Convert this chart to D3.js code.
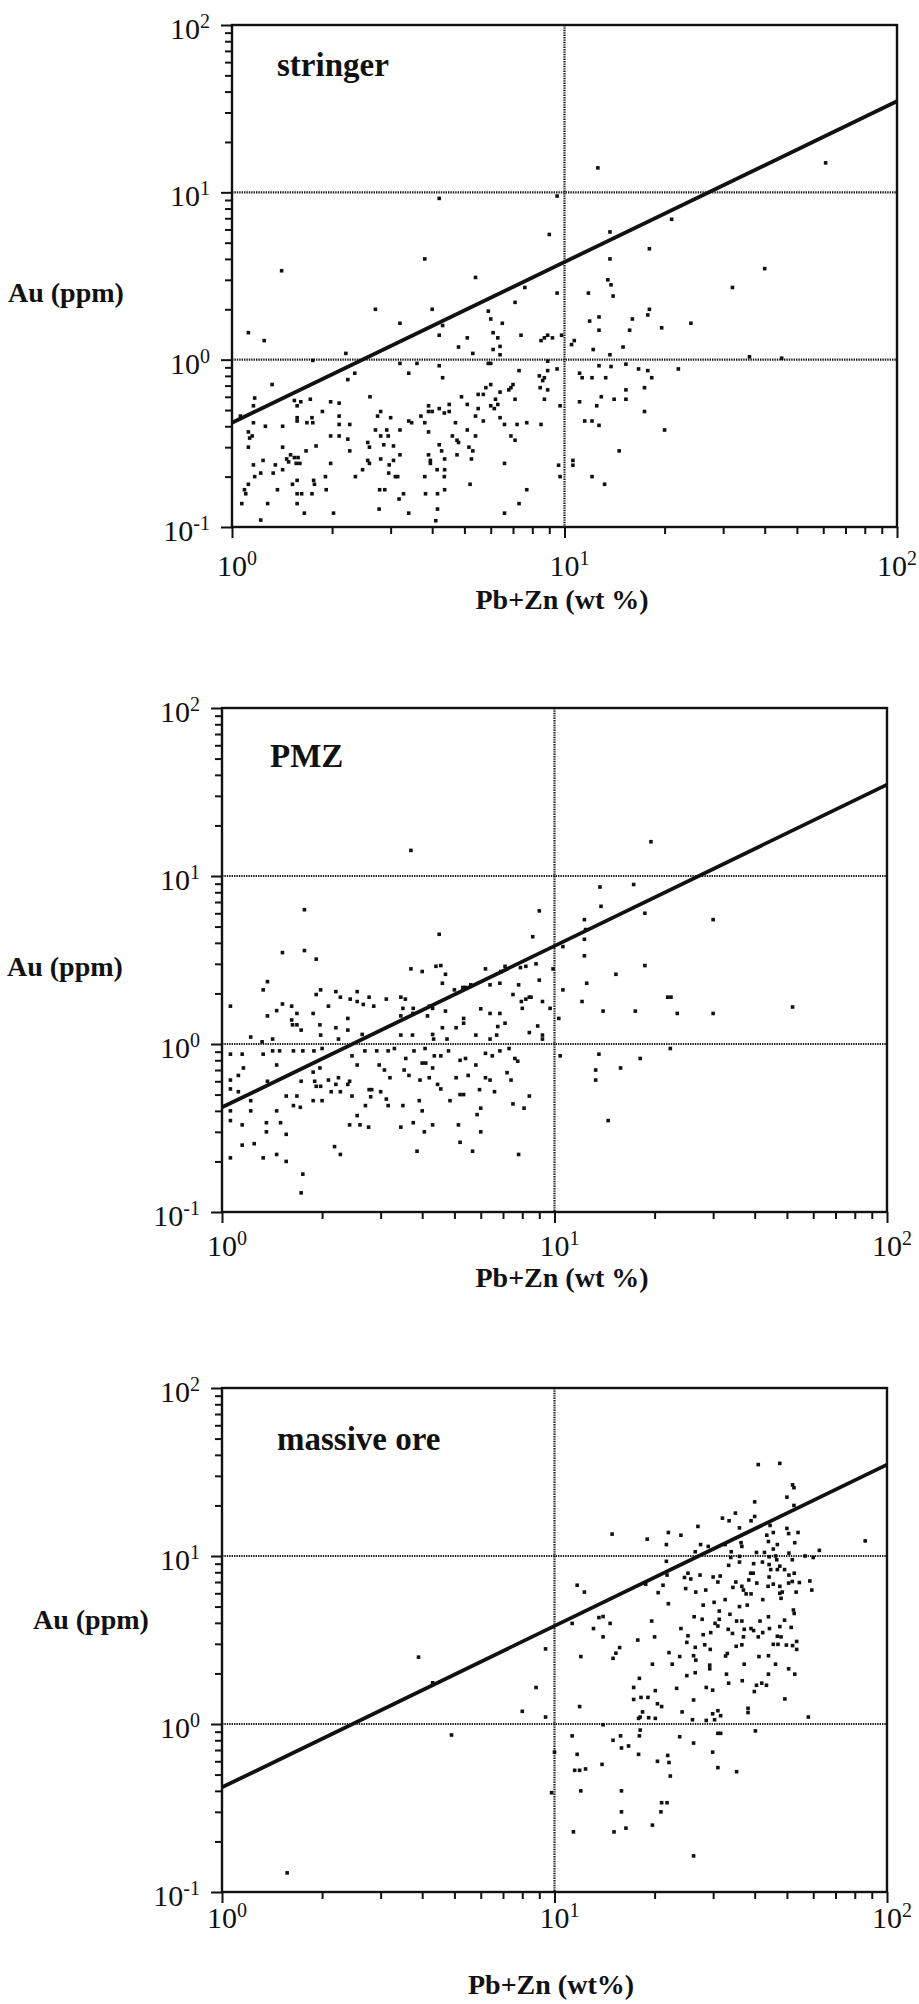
<!DOCTYPE html>
<html><head><meta charset="utf-8">
<script src="https://cdn.jsdelivr.net/npm/d3@7"></script>
<style>body{margin:0;background:#fff}svg{display:block}</style>
</head><body>
<svg id="chart" width="919" height="2004"></svg>
<script>
// ---------- data ----------
const panelNames = ["stringer", "PMZ", "massive ore"];
const xTitles = ["Pb+Zn (wt %)", "Pb+Zn (wt %)", "Pb+Zn (wt%)"];
const yTitle = "Au (ppm)";
const xTickValues = [1, 10, 100];
const xTickExponents = ["0", "1", "2"];
const yTickValues = [0.1, 1, 10, 100];
const yTickExponents = ["-1", "0", "1", "2"];
const gridXValues = [10];
const gridYValues = [1, 10];
const fitLine = [[1, 0.42], [100, 35]];

const stringerData = [[12.6,14],[4.2,9.2],[9.5,9.5],[21,6.9],[9.0,5.6],[13.7,5.8],[18,4.6],[3.8,4.0],[13.7,4.0],[1.41,3.4],[40,3.5],[5.4,3.1],[32,2.7],[7.6,2.7],[13.5,3.0],[13.8,2.8],[9.5,2.5],[11.8,2.5],[14,2.4],[7.1,2.2],[2.7,2.0],[4.0,2.0],[5.9,1.95],[18,2.0],[17.8,1.85],[12.7,1.8],[16,1.75],[6.0,1.75],[3.2,1.65],[6.5,1.65],[4.3,1.6],[11.9,1.7],[24,1.65],[1.12,1.45],[19.6,1.55],[12.7,1.5],[15.7,1.5],[6.1,1.45],[7.4,1.4],[4.2,1.4],[8.9,1.4],[8.7,1.35],[8.5,1.3],[9.2,1.35],[1.25,1.3],[5.1,1.35],[6.3,1.35],[10.7,1.3],[10.5,1.23],[9.8,1.4],[4.8,1.19],[6.4,1.2],[6.1,1.15],[12.2,1.15],[15,1.19],[5.3,1.09],[6.4,1.07],[2.2,1.09],[13.7,1.07],[1.75,0.99],[3.2,0.95],[3.6,0.95],[5.9,0.95],[6.0,0.95],[8.9,0.98],[36,1.04],[4.2,0.92],[12.7,0.92],[13.8,0.91],[15.3,0.94],[16.7,0.88],[17.8,0.86],[22,0.88],[9.5,0.88],[8.9,0.86],[3.4,0.83],[2.34,0.83],[7.3,0.86],[11.1,0.83],[11.3,0.78],[12.1,0.78],[13.3,0.78],[18.3,0.78],[4.3,0.78],[8.4,0.80],[8.7,0.78],[8.6,0.75],[2.23,0.76],[1.32,0.71],[6.0,0.71],[5.8,0.68],[7.0,0.71],[6.9,0.68],[6.8,0.66],[8.45,0.68],[8.9,0.66],[15.3,0.66],[17.4,0.68],[6.4,0.64],[5.7,0.62],[5.5,0.62],[6.2,0.58],[4.9,0.60],[2.6,0.60],[1.17,0.59],[1.16,0.53],[1.54,0.57],[1.72,0.58],[1.98,0.56],[2.1,0.55],[12.9,0.60],[14.1,0.58],[15.3,0.58],[8.7,0.58],[7.1,0.58],[11.1,0.56],[1.61,0.56],[1.57,0.53],[6.0,0.53],[6.15,0.51],[6.3,0.54],[5.5,0.51],[5.1,0.54],[4.5,0.54],[3.9,0.53],[3.9,0.49],[4.0,0.49],[4.2,0.51],[4.35,0.48],[4.5,0.49],[9.7,0.53],[12.5,0.53],[1.87,0.49],[17.4,0.49],[5.4,0.46],[6.4,0.45],[5.7,0.43],[3.7,0.46],[2.74,0.46],[2.8,0.49],[2.1,0.46],[3.0,0.45],[1.57,0.45],[1.57,0.43],[1.74,0.45],[1.68,0.42],[1.75,0.42],[11.5,0.43],[12.1,0.43],[12.7,0.405],[1.06,0.46],[1.16,0.42],[1.26,0.40],[1.42,0.40],[2.1,0.41],[2.26,0.41],[3.4,0.43],[3.47,0.42],[3.8,0.42],[4.7,0.42],[6.6,0.41],[7.2,0.41],[7.7,0.42],[8.5,0.41],[1.12,0.37],[1.15,0.35],[1.13,0.34],[1.98,0.35],[2.1,0.35],[2.23,0.335],[2.7,0.38],[2.8,0.35],[2.95,0.35],[2.92,0.38],[3.2,0.38],[3.9,0.37],[4.6,0.35],[4.75,0.33],[4.8,0.32],[5.1,0.38],[5.4,0.35],[6.9,0.35],[7.1,0.33],[20,0.38],[1.12,0.30],[1.42,0.30],[1.67,0.285],[1.79,0.305],[2.26,0.285],[2.56,0.32],[2.59,0.30],[2.86,0.31],[3.06,0.305],[4.2,0.31],[4.27,0.285],[5.16,0.30],[5.3,0.285],[14.6,0.285],[1.5,0.27],[1.46,0.255],[1.54,0.26],[1.58,0.26],[1.48,0.245],[1.6,0.24],[1.56,0.24],[1.16,0.235],[1.24,0.25],[1.35,0.235],[1.98,0.24],[2.56,0.25],[2.59,0.24],[2.8,0.255],[3.06,0.25],[2.97,0.235],[3.2,0.27],[3.9,0.27],[3.95,0.25],[3.95,0.24],[4.36,0.255],[4.75,0.27],[5.25,0.255],[6.6,0.24],[9.6,0.234],[10.6,0.25],[10.6,0.234],[4.36,0.22],[1.22,0.21],[1.33,0.21],[1.42,0.22],[1.17,0.20],[1.57,0.19],[1.52,0.18],[1.76,0.19],[1.77,0.18],[1.91,0.20],[2.35,0.20],[2.47,0.22],[2.96,0.21],[3.1,0.20],[3.15,0.20],[3.8,0.20],[4.14,0.22],[4.35,0.20],[9.7,0.20],[12.1,0.20],[13.2,0.18],[1.12,0.18],[1.09,0.167],[1.1,0.158],[1.37,0.167],[1.57,0.158],[1.62,0.158],[1.74,0.158],[1.92,0.167],[2.78,0.167],[2.88,0.167],[3.28,0.158],[3.18,0.147],[3.82,0.158],[4.15,0.158],[4.36,0.167],[5.2,0.18],[7.7,0.167],[1.07,0.138],[1.28,0.138],[1.57,0.138],[2.77,0.128],[3.4,0.121],[4.15,0.128],[4.1,0.109],[7.3,0.138],[6.6,0.121],[1.22,0.11],[1.65,0.121],[2.02,0.121],[61,15],[45,1.02]];

const pmzData = [[3.7,14.2],[19.5,16],[13.7,8.6],[17.3,8.9],[13.8,6.6],[1.77,6.3],[9.0,6.2],[18.7,6.0],[30,5.5],[12.3,5.5],[12.4,4.8],[4.5,4.5],[8.6,4.35],[12.3,4.2],[10.6,3.8],[1.52,3.5],[1.77,3.6],[1.92,3.2],[12.3,3.35],[18.7,2.93],[3.7,2.8],[4.0,2.7],[4.4,2.9],[4.55,2.93],[4.7,2.6],[6.2,2.8],[6.9,2.7],[7.1,2.9],[7.9,2.85],[8.8,3.0],[8.2,2.9],[9.9,2.8],[15.3,2.6],[1.37,2.35],[1.33,2.1],[12.5,2.3],[4.6,2.3],[6.4,2.25],[6.85,2.3],[7.8,2.25],[9.0,2.4],[10.6,2.1],[1.92,1.97],[1.98,2.1],[2.2,2.05],[2.27,1.9],[2.43,1.85],[2.55,2.05],[2.55,1.79],[2.77,1.9],[2.66,1.72],[2.86,1.68],[3.12,1.85],[3.45,1.9],[3.56,1.85],[3.5,1.63],[3.76,1.63],[3.45,1.47],[3.75,1.52],[4.15,1.47],[4.3,1.63],[4.2,1.68],[4.7,1.57],[5.0,2.1],[5.3,2.17],[5.4,2.17],[5.6,2.25],[6.0,1.62],[6.4,1.52],[6.85,1.52],[7.5,1.97],[8.4,1.9],[8.5,1.9],[8.2,1.85],[7.95,1.79],[9.2,1.79],[8.0,1.63],[9.7,1.63],[12.1,1.79],[21.9,1.9],[22.4,1.9],[14.0,1.57],[17.5,1.57],[23.4,1.52],[30,1.52],[52,1.66],[1.06,1.68],[1.46,1.58],[1.52,1.73],[1.62,1.68],[1.68,1.52],[1.37,1.47],[1.88,1.52],[2.09,1.68],[1.62,1.39],[1.68,1.3],[1.63,1.3],[1.73,1.21],[1.97,1.3],[1.98,1.13],[2.2,1.25],[2.39,1.42],[2.39,1.21],[2.24,1.07],[2.64,1.14],[3.45,1.13],[3.74,1.13],[4.3,1.14],[4.33,1.07],[4.6,1.25],[4.75,1.07],[5.06,1.25],[5.33,1.42],[5.33,1.33],[5.8,1.13],[6.7,1.13],[6.75,1.27],[7.1,1.33],[6.4,1.07],[8.9,1.28],[8.4,1.17],[9.2,1.13],[9.2,1.07],[10.3,1.42],[1.22,1.1],[1.42,1.07],[1.32,1.03],[1.06,0.87],[1.15,0.87],[1.33,0.87],[1.42,0.91],[1.49,0.91],[1.64,0.91],[1.75,0.91],[1.89,0.91],[2.0,0.94],[2.46,0.85],[2.69,0.91],[2.92,0.91],[3.16,0.91],[3.3,0.94],[3.57,0.82],[3.78,0.91],[4.08,0.94],[4.0,0.77],[4.1,0.77],[4.3,0.72],[4.35,0.85],[4.55,0.85],[4.8,0.91],[5.2,0.80],[5.4,0.82],[5.8,0.75],[6.2,0.88],[6.5,0.85],[6.85,0.91],[7.3,0.94],[7.6,0.82],[7.75,0.79],[7.2,0.675],[7.4,0.61],[10.4,0.85],[13.6,0.87],[13.3,0.70],[13.3,0.61],[15.8,0.72],[18.1,0.82],[22.3,0.94],[14.5,0.35],[1.06,0.61],[1.12,0.65],[1.16,0.72],[1.12,0.52],[1.06,0.54],[1.06,0.40],[1.22,0.46],[1.22,0.40],[1.37,0.60],[1.46,0.75],[1.56,0.49],[1.64,0.43],[1.68,0.49],[1.72,0.42],[1.73,0.60],[1.46,0.40],[1.88,0.68],[1.9,0.60],[1.97,0.72],[1.92,0.56],[1.98,0.56],[1.88,0.46],[2.0,0.46],[2.09,0.61],[2.13,0.52],[2.2,0.575],[2.24,0.63],[2.27,0.52],[2.39,0.575],[2.42,0.60],[2.46,0.49],[2.55,0.75],[2.7,0.43],[2.77,0.535],[2.8,0.485],[2.82,0.535],[3.0,0.52],[2.97,0.75],[3.08,0.70],[3.2,0.63],[3.12,0.47],[3.16,0.43],[3.5,0.43],[3.53,0.70],[3.65,0.65],[3.94,0.61],[3.92,0.46],[4.0,0.40],[4.2,0.63],[4.45,0.575],[4.55,0.54],[4.85,0.46],[5.06,0.63],[5.2,0.50],[5.33,0.50],[5.5,0.65],[5.95,0.535],[6.0,0.415],[6.2,0.63],[6.4,0.61],[6.6,0.52],[7.5,0.44],[8.1,0.415],[8.4,0.49],[2.42,0.33],[2.6,0.33],[2.76,0.32],[2.55,0.375],[3.45,0.32],[3.76,0.34],[4.06,0.30],[4.3,0.33],[5.14,0.33],[5.2,0.26],[5.85,0.38],[6.0,0.30],[5.67,0.23],[7.8,0.22],[3.86,0.23],[2.18,0.245],[2.27,0.22],[1.15,0.33],[1.15,0.25],[1.25,0.255],[1.36,0.34],[1.36,0.30],[1.5,0.34],[1.56,0.29],[1.06,0.21],[1.33,0.21],[1.46,0.22],[1.56,0.20],[1.75,0.168],[1.73,0.13],[1.06,0.35]];

const massiveData = [[41,35],[47.6,35.6],[52,26.5],[52.5,25.5],[50,22.4],[40,21],[52.5,20],[40,17.2],[35,18],[33.5,16.2],[32,16.8],[39,16.2],[36,14.7],[27,15],[44.5,15.2],[14.9,13.5],[19,12.6],[22,13.8],[24,13.3],[21.7,11.7],[27.5,11.7],[29,11.4],[32.6,11.7],[36.4,12],[43.5,13.3],[45.5,13.8],[50,14.6],[50.6,13.6],[54,13.8],[52.8,12],[46.8,11.7],[45.5,11],[44,12.2],[62.6,10.8],[86,12.3],[26.5,10.6],[21.7,9.3],[34,10.6],[36.6,11.4],[40.5,10.5],[42.8,10.5],[44.2,9.9],[46.2,10.0],[46.6,9.5],[50.7,10.4],[51.9,9.5],[56.7,10],[60,9.8],[36,9.95],[33.9,9.8],[33.4,8.8],[36,9.2],[39.7,9.0],[42.2,9.2],[44.2,8.9],[44.7,8.3],[46.8,8.3],[47.6,8.7],[49.2,8.3],[50.7,7.7],[52.6,7.9],[51.9,7.05],[54.5,6.95],[58.6,7.1],[59.4,6.27],[50.6,6.9],[47.6,6.6],[48.4,6.1],[47.6,6.0],[53.3,6.1],[45.5,6.8],[44.2,7.5],[43.9,6.6],[40.6,6.9],[39.6,7.9],[38.9,7.9],[38.4,7.2],[36.6,6.6],[37.7,5.95],[37,6.27],[39,5.95],[34.4,6.5],[35.1,7.0],[31,7.0],[31.5,7.6],[30,7.5],[27.4,7.7],[25.7,7.3],[24.6,7.45],[25.2,7.9],[24.8,6.4],[26.6,6.1],[28.5,6.27],[21.8,7.7],[21.2,6.7],[20.5,6.05],[18.8,6.8],[11.7,6.7],[12.3,6.1],[22,5.2],[32.6,5.5],[33.7,4.5],[36,5.0],[38,5.1],[42.3,5.5],[48,5.6],[52.3,4.77],[52.6,4.55],[30.2,5.3],[31.3,4.7],[28,5.1],[27.8,4.2],[31.3,4.2],[30.4,3.97],[31,3.83],[33.3,3.66],[34.3,3.46],[35.3,4.1],[36.6,4.1],[37.2,3.66],[37,3.3],[39,3.7],[39.7,3.6],[41,3.3],[41.5,4.1],[42.3,3.5],[44.3,3.7],[44,4.35],[46.8,3.33],[47.6,3.8],[48,3.3],[49.8,2.95],[51.5,3.76],[52,2.93],[53.5,3.1],[53.5,2.78],[47,2.98],[49.2,4.15],[45.5,2.98],[29.5,3.5],[28,3.4],[26.3,4.35],[25.2,3.35],[25,3.06],[26.5,2.86],[28.3,2.96],[29.4,2.78],[24,3.7],[26.2,2.55],[26.6,2.4],[23.8,2.52],[22.1,2.66],[19.7,2.27],[22.6,2.27],[29.3,2.24],[29.3,2.13],[26.5,2.02],[25,1.94],[33.1,2.63],[32.7,2.54],[35.2,2.9],[36.6,2.96],[37.2,2.27],[36.7,1.81],[33.4,1.75],[32.9,1.98],[41.2,2.52],[44,2.55],[46.2,2.27],[44,1.98],[50.6,2.13],[52.8,1.98],[40.5,1.7],[42,1.75],[43.4,1.7],[39.9,1.56],[49.3,1.41],[38.2,1.24],[38.2,1.17],[28.6,1.65],[29.9,1.59],[26.2,1.39],[23.3,1.63],[20.1,1.58],[19.6,4.1],[20,3.3],[17.8,3.16],[15.7,2.85],[15,2.46],[15.3,2.64],[12,2.52],[13.1,3.7],[13.6,4.3],[14,4.36],[14.7,3.97],[14,3.3],[11.3,3.97],[18.0,1.87],[17.3,1.65],[17.3,1.40],[18.2,1.44],[19.1,1.44],[20.4,1.32],[21,1.27],[11.9,1.27],[18.4,1.18],[18.1,1.1],[17.9,1.08],[19.2,1.09],[20.1,1.08],[24.2,1.18],[26,1.06],[28.6,1.05],[29.9,1.15],[31,1.2],[31.6,1.12],[30.3,1.06],[40.2,0.91],[58,1.1],[14,0.99],[9.4,1.1],[9.4,2.8],[11.3,0.85],[15,0.80],[15.9,0.72],[15.8,0.85],[16.7,0.74],[18,0.85],[18.1,0.92],[17.9,0.66],[20.4,0.6],[22.1,0.59],[21.9,0.65],[22.3,0.49],[23.8,0.84],[26.2,0.77],[29.9,0.68],[31,0.88],[31.6,0.88],[31,0.55],[35.3,0.52],[11.7,0.66],[11.5,0.53],[11.9,0.53],[12.4,0.54],[13.9,0.575],[12,0.40],[15.9,0.40],[15.9,0.30],[16.4,0.24],[15.1,0.228],[11.4,0.228],[19.7,0.25],[20.9,0.30],[21,0.34],[21.8,0.34],[26.2,0.164],[10,0.68],[9.8,0.39],[3.9,2.5],[4.3,1.76],[4.9,0.86],[1.57,0.13],[8.8,1.65],[8.0,1.19]];

const panelData = [stringerData, pmzData, massiveData];

// ---------- layout ----------
const layout = [
  {left:232, right:897, top:25,   bottom:527,  label:[277,76],   yT:[8,302],   xTickY:576,  xT:[562,609]},
  {left:222, right:887, top:708,  bottom:1212, label:[270,767],  yT:[7,976],   xTickY:1256, xT:[562,1287]},
  {left:222, right:887, top:1388, bottom:1892, label:[277,1450], yT:[33,1629], xTickY:1928, xT:[551,1994]}
];

const svg = d3.select("#chart");
const SERIF = "'Liberation Serif','Times New Roman',serif";
const ink = "#111";
const W = 919;

layout.forEach((L, i) => {
  const g = svg.append("g");
  const x = d3.scaleLog().domain([1, 100]).range([L.left, L.right]);
  const y = d3.scaleLog().domain([0.1, 100]).range([L.bottom, L.top]);

  // grid lines (dotted)
  g.selectAll(".gy").data(gridYValues).join("line")
    .attr("x1", L.left).attr("x2", L.right)
    .attr("y1", d => y(d)).attr("y2", d => y(d))
    .attr("stroke", "#1a1a1a").attr("stroke-width", 2.2).attr("stroke-dasharray", "1.4 1");
  g.selectAll(".gx").data(gridXValues).join("line")
    .attr("y1", L.top).attr("y2", L.bottom)
    .attr("x1", d => x(d)).attr("x2", d => x(d))
    .attr("stroke", "#1a1a1a").attr("stroke-width", 2.2).attr("stroke-dasharray", "1.4 1");

  // minor / major ticks via axes
  const minorY = y.ticks().filter(v => !yTickValues.includes(v));
  const minorX = x.ticks().filter(v => !xTickValues.includes(v));
  const styleAxis = sel => {
    sel.select(".domain").remove();
    sel.selectAll("line").attr("stroke", ink).attr("stroke-width", 2);
    sel.selectAll("text").remove();
  };
  g.append("g").attr("transform", `translate(${L.left},0)`)
    .call(d3.axisLeft(y).tickValues(minorY).tickSize(7).tickSizeOuter(0).tickFormat("")).call(styleAxis);
  g.append("g").attr("transform", `translate(${L.left},0)`)
    .call(d3.axisLeft(y).tickValues(yTickValues).tickSize(11).tickSizeOuter(0).tickFormat("")).call(styleAxis);
  g.append("g").attr("transform", `translate(0,${L.bottom})`)
    .call(d3.axisBottom(x).tickValues(minorX).tickSize(7).tickSizeOuter(0).tickFormat("")).call(styleAxis);
  g.append("g").attr("transform", `translate(0,${L.bottom})`)
    .call(d3.axisBottom(x).tickValues(xTickValues).tickSize(11).tickSizeOuter(0).tickFormat("")).call(styleAxis);

  // frame
  g.append("rect").attr("x", L.left).attr("y", L.top)
    .attr("width", L.right - L.left).attr("height", L.bottom - L.top)
    .attr("fill", "none").attr("stroke", ink).attr("stroke-width", 2.4);

  // data points
  g.selectAll(".pt").data(panelData[i]).join("rect")
    .attr("x", d => x(d[0]) - 1.8).attr("y", d => y(d[1]) - 1.8)
    .attr("width", 3.6).attr("height", 3.6).attr("fill", ink);

  // fitted line
  g.append("path").datum(fitLine)
    .attr("d", d3.line().x(d => x(d[0])).y(d => y(d[1])))
    .attr("stroke", ink).attr("stroke-width", 3.8).attr("fill", "none");

  // y tick labels
  yTickValues.forEach((v, k) => {
    const t = g.append("text").attr("x", L.left - 22).attr("y", y(v) + 14)
      .attr("text-anchor", "end").attr("font-family", SERIF).attr("font-size", 30).attr("fill", ink);
    t.append("tspan").text("10");
    t.append("tspan").attr("font-size", 20).attr("dy", -11).text(yTickExponents[k]);
  });
  // x tick labels
  xTickValues.forEach((v, k) => {
    const t = g.append("text").attr("x", x(v) - 15).attr("y", L.xTickY)
      .attr("font-family", SERIF).attr("font-size", 30).attr("fill", ink);
    t.append("tspan").text("10");
    t.append("tspan").attr("font-size", 20).attr("dy", -11).text(xTickExponents[k]);
    const bb = t.node().getBBox();
    if (bb.x + bb.width > W - 2) t.attr("x", W - 2 - bb.width);
  });

  // panel label
  g.append("text").attr("x", L.label[0]).attr("y", L.label[1])
    .attr("font-family", SERIF).attr("font-weight", "bold").attr("font-size", 33).attr("fill", ink)
    .text(panelNames[i]);
  // axis titles
  g.append("text").attr("x", L.yT[0]).attr("y", L.yT[1])
    .attr("font-family", SERIF).attr("font-weight", "bold").attr("font-size", 28).attr("fill", ink)
    .text(yTitle);
  g.append("text").attr("x", L.xT[0]).attr("y", L.xT[1]).attr("text-anchor", "middle")
    .attr("font-family", SERIF).attr("font-weight", "bold").attr("font-size", 28).attr("fill", ink)
    .text(xTitles[i]);
});
</script>
</body></html>
